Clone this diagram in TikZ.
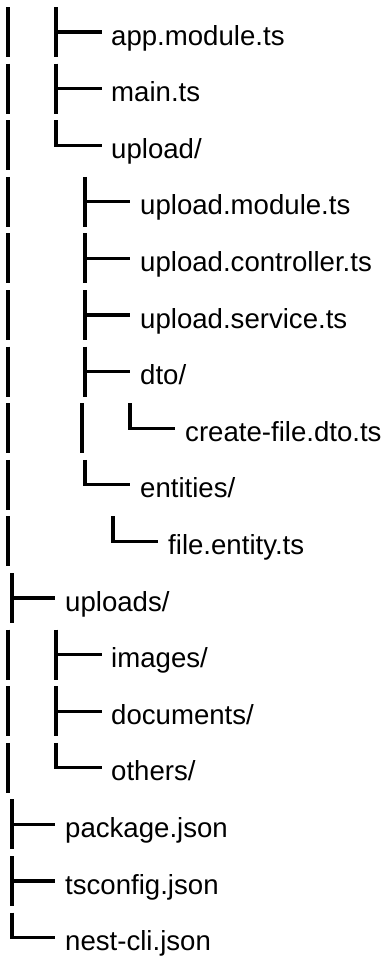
\documentclass[tikz,border=0pt]{standalone}
\usepackage{fontspec}
\setmainfont{Liberation Sans}
\newcommand\lblfont{\fontsize{27.6}{30}\selectfont}
\newcommand\Bar[2]{\draw[tl] (#1,#2-25)--(#1,#2+25);}
\newcommand\Tee[3]{\draw[tl] (#1,#3-25)--(#1,#3+25); \draw[tl] (#1,#3)--(#2,#3);}
\newcommand\Ell[3]{\draw[tl] (#1,#3-25)--(#1,#3)--(#2,#3);}
\newcommand\Lbl[4]{\node[lbl] (#1) at (#2,#3+13) {#4};}
\begin{document}
\begin{tikzpicture}[x=1pt,y=-1pt,
  tl/.style={line width=3.2pt, line cap=butt, line join=miter, black},
  lbl/.style={anchor=base west, inner sep=0pt, font=\lblfont, text=black}]
\useasboundingbox (0,0) rectangle (387,956);
% row 1
\Bar{8}{32} \Tee{56}{102}{32} \Lbl{n1}{111}{32}{app.module.ts}
% row 2
\Bar{8}{88.6} \Tee{56}{102}{88.6} \Lbl{n2}{111}{88.6}{main.ts}
% row 3
\Bar{8}{145.2} \Ell{56}{102}{145.2} \Lbl{n3}{111}{145.2}{upload/}
% row 4
\Bar{8}{201.8} \Tee{85}{130}{201.8} \Lbl{n4}{140}{201.8}{upload.module.ts}
% row 5
\Bar{8}{258.4} \Tee{85}{130}{258.4} \Lbl{n5}{140}{258.4}{upload.controller.ts}
% row 6
\Bar{8}{315} \Tee{85}{130}{315} \Lbl{n6}{140}{315}{upload.service.ts}
% row 7
\Bar{8}{371.6} \Tee{85}{130}{371.6} \Lbl{n7}{140}{371.6}{dto/}
% row 8
\Bar{8}{428.2} \Bar{82}{428.2} \Ell{130}{175}{428.2} \Lbl{n8}{185}{428.2}{create-file.dto.ts}
% row 9
\Bar{8}{484.8} \Ell{85}{130}{484.8} \Lbl{n9}{140}{484.8}{entities/}
% row 10
\Bar{8}{541.4} \Ell{113}{158}{541.4} \Lbl{n10}{168}{541.4}{file.entity.ts}
% row 11
\Tee{12}{55}{598} \Lbl{n11}{65}{598}{uploads/}
% row 12
\Bar{8}{654.6} \Tee{56}{102}{654.6} \Lbl{n12}{111}{654.6}{images/}
% row 13
\Bar{8}{711.2} \Tee{56}{102}{711.2} \Lbl{n13}{111}{711.2}{documents/}
% row 14
\Bar{8}{767.8} \Ell{56}{102}{767.8} \Lbl{n14}{111}{767.8}{others/}
% row 15
\Tee{12}{55}{824.4} \Lbl{n15}{65}{824.4}{package.json}
% row 16
\Tee{12}{55}{881} \Lbl{n16}{65}{881}{tsconfig.json}
% row 17
\Ell{12}{55}{937.6} \Lbl{n17}{65}{937.6}{nest-cli.json}
\end{tikzpicture}
\end{document}
